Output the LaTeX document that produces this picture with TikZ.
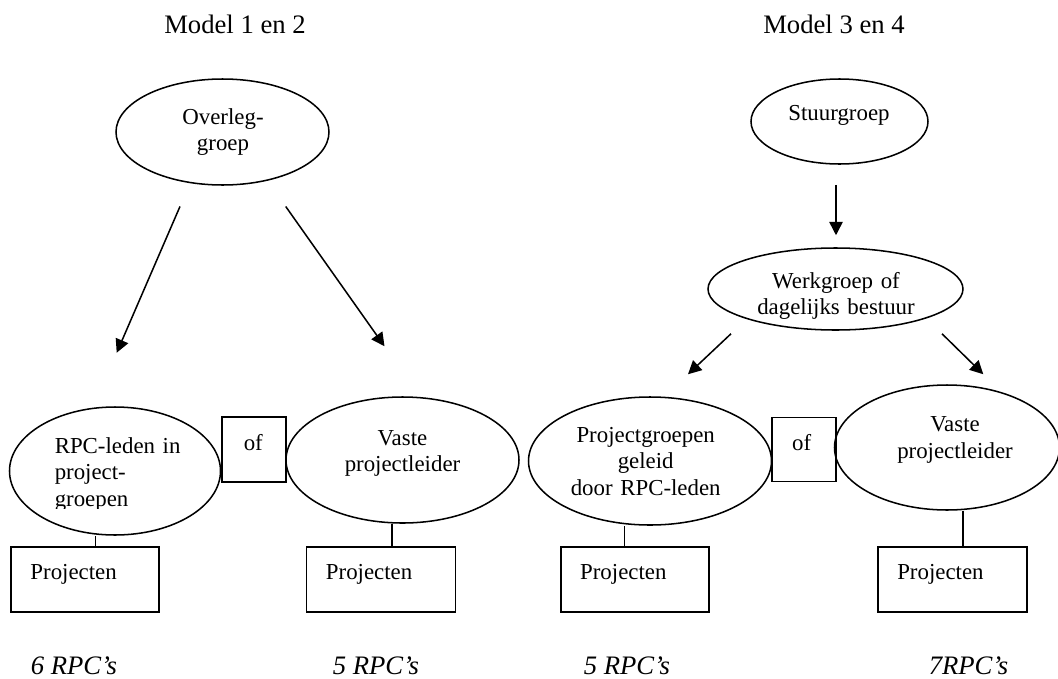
\documentclass[tikz,border=0pt]{standalone}
\usepackage{fontspec}
\setmainfont{Liberation Serif}
\usetikzlibrary{shapes.geometric,arrows.meta}
\begin{document}
\begin{tikzpicture}[x=0.525pt, y=-0.525pt, line width=.8pt,
    txt/.style={inner sep=0, font=\fontsize{12}{14}\selectfont},
    mtxt/.style={txt, anchor=base, text width=150pt, align=center},
    oval/.style 2 args={draw, ellipse, inner sep=0,
        minimum width=2*#1*0.525pt, minimum height=2*#2*0.525pt},
    box/.style 2 args={draw, rectangle, inner sep=0,
        minimum width=#1*0.525pt, minimum height=#2*0.525pt},
    arr/.style={-{Triangle[length=7pt,width=7pt]}}]
    \useasboundingbox (0,0) rectangle (1058,679);
    % titels
    \node[txt, font=\fontsize{14}{16}\selectfont, anchor=base] (titel12) at (235,33) {Model 1 en 2};
    \node[txt, font=\fontsize{14}{16}\selectfont, anchor=base] (titel34) at (834,33) {Model 3 en 4};
    % ellipsen
    \node[oval={106.5}{53}] (overleg) at (222.5,132) {};
    \node[oval={88.5}{42.5}] (stuur) at (839.5,121.5) {};
    \node[oval={127.5}{41}] (werk) at (835.5,289) {};
    \node[oval={105.5}{64}] (rpc) at (115,471) {};
    \node[oval={116.5}{63}] (vaste1) at (402.5,460) {};
    \node[oval={121.5}{64}] (projgr) at (650,461) {};
    \node[oval={112.5}{62.5}] (vaste2) at (947,447.5) {};
    \node[mtxt] (overlegtxt) at (223,124) {Overleg-\\groep};
    \node[mtxt] (stuurtxt) at (839,120) {Stuurgroep};
    \node[mtxt] (werktxt) at (836,288) {Werkgroep of\\dagelijks bestuur};
    \begin{scope}
        \clip (0,0) rectangle (1058,508);
        \node[txt, anchor=base west, text width=150pt, align=left] (rpctxt) at (54,453) {RPC-leden in\\project-\\groepen};
    \end{scope}
    \node[mtxt] (vaste1txt) at (402.5,445) {Vaste\\projectleider};
    \node[mtxt] (projgrtxt) at (645.7,442.3) {Projectgroepen\\geleid\\door RPC-leden};
    \node[mtxt] (vaste2txt) at (955,431.7) {Vaste\\projectleider};
    % of
    \node[box={64}{65}] (of1) at (254,449.5) {};
    \node[box={64}{64}] (of2) at (804,449.7) {};
    \node[txt, anchor=base] (of1txt) at (253.3,450) {of};
    \node[txt, anchor=base] (of2txt) at (801.7,450) {of};
    % projecten
    \node[box={148}{65}] (proj1) at (84.9,579.3) {};
    \node[box={149}{65}] (proj2) at (381,579.3) {};
    \node[box={148}{65}] (proj3) at (634.9,579.3) {};
    \node[box={149}{65}] (proj4) at (952.3,579.3) {};
    \node[txt, anchor=base west] (proj1txt) at (29.7,579.5) {Projecten};
    \node[txt, anchor=base west] (proj2txt) at (325.2,579.5) {Projecten};
    \node[txt, anchor=base west] (proj3txt) at (579.4,579.5) {Projecten};
    \node[txt, anchor=base west] (proj4txt) at (896.5,579.5) {Projecten};
    \draw ([shift={(10.8,0)}]proj1.north) -- ([shift={(10.8,0)}]proj1.north |- rpc.south);
    \draw ([shift={(11,0)}]proj2.north) -- ([shift={(11,0)}]proj2.north |- vaste1.south);
    \draw ([shift={(-10.6,0)}]proj3.north) -- ([shift={(-10.6,0)}]proj3.north |- projgr.south);
    \draw ([shift={(10.7,0)}]proj4.north) -- ([shift={(10.7,0)}]proj4.north |- vaste2.south);
    % pijlen
    \draw[arr] ([shift={(-42.5,20.7)}]overleg.south) -- ([shift={(1.7,-53.5)}]rpc.north);
    \draw[arr] ([shift={(63.2,20.7)}]overleg.south) -- ([shift={(-18,-50)}]vaste1.north);
    \draw[arr] ([shift={(-3.5,20)}]stuur.south) -- ([shift={(0.5,-12)}]werk.north);
    \draw[arr] ([shift={(-104.5,3)}]werk.south) -- ([shift={(38,-22)}]projgr.north);
    \draw[arr] ([shift={(106.5,3)}]werk.south) -- ([shift={(36.3,-10)}]vaste2.north);
    % aantallen
    \foreach \x/\n [count=\i] in {30/6 RPC’s, 332/5 RPC’s, 583/5 RPC’s, 928/7RPC’s}
        \node[txt, font=\fontsize{14}{16}\selectfont\itshape, anchor=base west] (aantal\i) at (\x,674) {\n};
\end{tikzpicture}
\end{document}
